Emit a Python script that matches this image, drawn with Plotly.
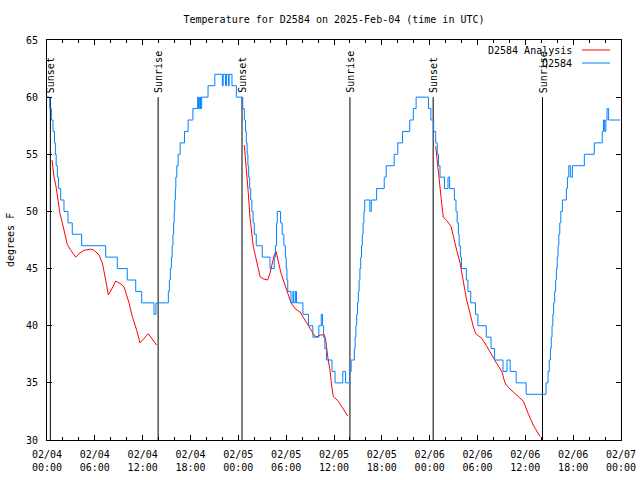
import plotly.graph_objects as go
from datetime import datetime, timedelta

START = datetime(2025, 2, 4, 0, 0)

# ---- observed D2584 temperature (hours after 02/04 00:00 UTC, degF), step changes
obs_hours = [0.0, 0.35, 0.55, 0.75, 0.95, 1.05, 1.15, 1.3, 1.45, 1.72, 2.13, 2.63, 3.17, 4.35,
             7.36, 8.82, 10.07, 11.13, 11.88, 13.42, 13.67,
             15.22, 15.35, 15.47, 15.6, 15.7, 15.8, 15.88, 15.95, 16.02, 16.1, 16.16, 16.28, 16.45,
             16.7, 17.25, 17.7, 18.3, 18.9, 19.0, 19.15, 19.25, 19.4, 20.2, 21.05, 22.0, 22.1,
             22.4, 22.5, 22.75, 22.85, 23.2, 23.75,
             24.55, 24.75, 24.9, 25.0, 25.1, 25.2, 25.3, 25.42, 25.55, 25.7, 25.85, 26.0, 26.25,
             27.0, 27.97, 28.5, 28.65, 28.8, 28.88, 29.3, 29.5, 29.72, 29.9, 30.0, 30.1, 30.2,
             30.6, 30.85, 30.95, 31.15, 31.3, 32.1, 32.8, 33.35, 34.1, 34.4, 34.55, 34.7, 34.85,
             35.05, 35.75, 36.13, 37.1, 37.45, 37.95, 38.15, 38.55, 38.65, 38.75, 38.85, 38.95,
             39.05, 39.15, 39.25, 39.35, 39.45, 39.55, 39.65, 39.75, 39.85, 40.5, 40.68, 41.35,
             42.3, 42.55, 43.55, 44.0, 44.6, 45.5, 45.95, 46.3,
             47.85, 48.15, 48.5, 48.75, 48.95, 49.1, 49.3, 49.85, 50.3, 50.5, 51.1, 51.3, 51.45,
             51.6, 51.7, 51.85, 52.0, 52.6, 52.8, 53.15, 53.75, 54.05, 55.1, 55.7, 56.15, 57.2,
             57.7, 58.1, 58.85, 60.1,
             62.6, 62.85, 63.0, 63.15, 63.25, 63.35, 63.45, 63.55, 63.68, 63.8, 63.9, 64.0, 64.1,
             64.2, 64.32, 64.45, 64.65, 65.15, 65.28, 65.45, 65.65, 65.9, 67.4, 68.65, 69.65,
             69.8, 69.95, 70.1, 70.25, 70.45, 71.88]
obs_temp = [60, 59, 58, 57, 56, 55, 54, 53, 52, 51, 50, 49, 48, 47,
            46, 45, 44, 43, 42, 41, 42,
            43, 44, 45, 46, 47, 48, 49, 50, 51, 52, 53, 54, 55,
            56, 57, 58, 59, 60, 59, 60, 59, 60, 61, 62, 61, 62,
            61, 62, 61, 62, 61, 60,
            59, 58, 57, 56, 55, 54, 53, 52, 51, 50, 49, 48, 47,
            46, 45, 46, 47, 49, 50, 49, 48, 47, 46, 45, 44, 43,
            42, 43, 42, 43, 42, 41, 40, 39, 40, 41, 40, 39, 38,
            37, 36, 35, 36, 35, 36, 37, 38, 39, 40, 41, 42,
            43, 44, 45, 46, 47, 48, 49, 50, 51, 50, 51, 52,
            53, 54, 55, 56, 57, 58, 59, 60,
            59, 58, 57, 56, 55, 54, 53, 52, 53, 52, 51, 50, 49,
            48, 47, 46, 45, 44, 43, 42, 41, 40, 39, 38, 37, 36,
            37, 36, 35, 34,
            35, 36, 37, 38, 39, 40, 41, 42, 43, 44, 45, 46, 47,
            48, 49, 50, 51, 52, 53, 54, 53, 54, 55, 56, 57,
            58, 57, 58, 59, 58, 58]

# ---- D2584 analysis, one segment per night
ana1_hours = [0.63, 0.88, 1.13, 1.38, 1.63, 1.92, 2.22, 2.55, 2.89, 3.6, 4.01, 4.64, 5.48, 5.9,
              6.52, 6.94, 7.36, 7.69, 8.19, 8.62, 9.16, 9.66, 10.29, 10.7, 11.25, 11.67, 12.71, 13.76]
ana1_temp = [54.5, 53.0, 52.2, 51.0, 49.8, 49.0, 48.1, 47.1, 46.7, 46.0, 46.3, 46.6, 46.7, 46.6,
             46.2, 45.5, 44.0, 42.7, 43.3, 43.9, 43.7, 43.4, 42.0, 40.8, 39.6, 38.5, 39.3, 38.3]
ana2_hours = [24.75, 24.92, 25.05, 25.25, 25.46, 25.68, 25.88, 26.18, 26.43, 26.72, 27.13, 27.68,
              27.97, 28.19, 28.51, 28.73, 29.01, 29.35, 29.64, 29.94, 30.27, 30.61, 31.11, 31.74,
              32.36, 32.87, 33.4, 33.74, 34.37, 34.78, 34.96, 35.21, 35.5, 35.71, 35.91, 36.54,
              36.97, 37.38, 37.72]
ana2_temp = [55.8, 54.5, 53.3, 51.6, 49.5, 47.8, 46.9, 46.0, 45.2, 44.3, 44.1, 44.0,
             44.6, 45.3, 46.2, 46.5, 45.5, 44.6, 44.0, 43.3, 42.7, 42.0, 41.5, 41.2,
             40.5, 39.8, 39.3, 39.0, 39.2, 39.2, 38.75, 37.3, 36.1, 34.7, 33.8, 33.4,
             32.9, 32.5, 32.1]
ana3_hours = [48.76, 48.88, 49.01, 49.17, 49.3, 49.51, 49.71, 50.14, 50.68, 50.97, 51.39, 51.81,
              52.22, 52.65, 53.06, 53.47, 53.78, 54.53, 55.16, 55.78, 56.41, 57.04, 57.45, 57.87,
              58.49, 59.12, 59.75, 60.37, 61.0, 61.84]
ana3_temp = [55.7, 54.8, 53.9, 52.9, 51.9, 50.7, 49.5, 49.2, 48.7, 47.8, 46.6, 45.5,
             43.7, 42.2, 41.1, 39.9, 39.3, 38.9, 38.2, 37.4, 36.7, 36.0, 35.0, 34.6,
             34.2, 33.8, 33.4, 32.3, 31.3, 30.3]

sunset_hours = [0.42, 24.46, 48.44]
sunrise_hours = [13.94, 38.0, 62.15]

tick_hours = [0, 6, 12, 18, 24, 30, 36, 42, 48, 54, 60, 66, 72]
tick_labels = ["02/04<br>00:00", "02/04<br>06:00", "02/04<br>12:00", "02/04<br>18:00",
               "02/05<br>00:00", "02/05<br>06:00", "02/05<br>12:00", "02/05<br>18:00",
               "02/06<br>00:00", "02/06<br>06:00", "02/06<br>12:00", "02/06<br>18:00",
               "02/07<br>00:00"]

TITLE = "Temperature for D2584 on 2025-Feb-04 (time in UTC)"
FONT = "DejaVu Sans Mono"
RED = "#ff0000"
BLUE = "#0080ff"


def t(h):
    return START + timedelta(hours=h)


ana_x, ana_y = [], []
for hs, vs in ((ana1_hours, ana1_temp), (ana2_hours, ana2_temp), (ana3_hours, ana3_temp)):
    ana_x += [t(h) for h in hs] + [None]
    ana_y += list(vs) + [None]

fig = go.Figure()
fig.add_trace(go.Scatter(x=ana_x, y=ana_y, mode="lines", name="D2584 Analysis",
                         line=dict(color=RED, width=1), connectgaps=False, showlegend=False))
fig.add_trace(go.Scatter(x=[t(h) for h in obs_hours], y=obs_temp, mode="lines", name="D2584",
                         line=dict(color=BLUE, width=1, shape="hv"), showlegend=False))

shapes = []
annotations = []
for label, hours in (("Sunset", sunset_hours), ("Sunrise", sunrise_hours)):
    for h in hours:
        shapes.append(dict(type="line", xref="x", yref="y", x0=t(h), x1=t(h), y0=30, y1=60,
                           line=dict(color="black", width=1), layer="below"))
        annotations.append(dict(x=t(h), y=60.2, xref="x", yref="y", text=label, textangle=-90,
                                showarrow=False, xanchor="center", yanchor="bottom", xshift=1,
                                font=dict(family=FONT, size=10, color="black")))

# legend drawn gnuplot-style: text right-aligned, sample line on the right
for i, (name, color) in enumerate((("D2584 Analysis", RED), ("D2584", BLUE))):
    ypos = 0.975 - i * 0.0325
    annotations.append(dict(x=0.918, y=ypos, xref="paper", yref="paper", text=name,
                            showarrow=False, xanchor="right", yanchor="middle",
                            font=dict(family=FONT, size=10, color="black")))
    shapes.append(dict(type="line", xref="paper", yref="paper", x0=0.932, x1=0.981,
                       y0=ypos, y1=ypos, line=dict(color=color, width=1)))

annotations.append(dict(x=0, y=0.5, xref="paper", yref="paper", text="degrees F",
                        textangle=-90, showarrow=False, xanchor="center", yanchor="middle",
                        xshift=-37, font=dict(family=FONT, size=10, color="black")))

fig.update_layout(
    width=640, height=480,
    margin=dict(l=47, r=19, t=40, b=40, autoexpand=False),
    paper_bgcolor="white", plot_bgcolor="white",
    font=dict(family=FONT, size=10, color="black"),
    title=dict(text=TITLE, x=0.5, xref="paper", y=1 - 19 / 480, yref="container",
               xanchor="center", yanchor="middle", font=dict(family=FONT, size=10, color="black")),
    shapes=shapes, annotations=annotations,
    showlegend=False,
)
fig.update_xaxes(
    type="date", range=[t(0), t(72)],
    tickmode="array", tickvals=[t(h) for h in tick_hours], ticktext=tick_labels,
    ticks="inside", ticklen=5, tickcolor="black", tickwidth=1,
    minor=dict(tickmode="linear", tick0=t(0), dtick=2 * 3600 * 1000, ticks="inside",
               ticklen=3, tickcolor="black", tickwidth=1),
    showline=True, linecolor="black", linewidth=1, mirror="ticks",
    showgrid=False, zeroline=False, ticklabelstandoff=5,
    tickfont=dict(family=FONT, size=10, color="black"),
)
fig.update_yaxes(
    range=[30, 65], tickmode="linear", tick0=30, dtick=5,
    ticks="inside", ticklen=5, tickcolor="black", tickwidth=1,
    showline=True, linecolor="black", linewidth=1, mirror="ticks",
    showgrid=False, zeroline=False, ticklabelstandoff=6,
    tickfont=dict(family=FONT, size=10, color="black"),
)

fig.write_html("out.html", config={"displayModeBar": False},
               post_script="document.body.style.margin='0';")
